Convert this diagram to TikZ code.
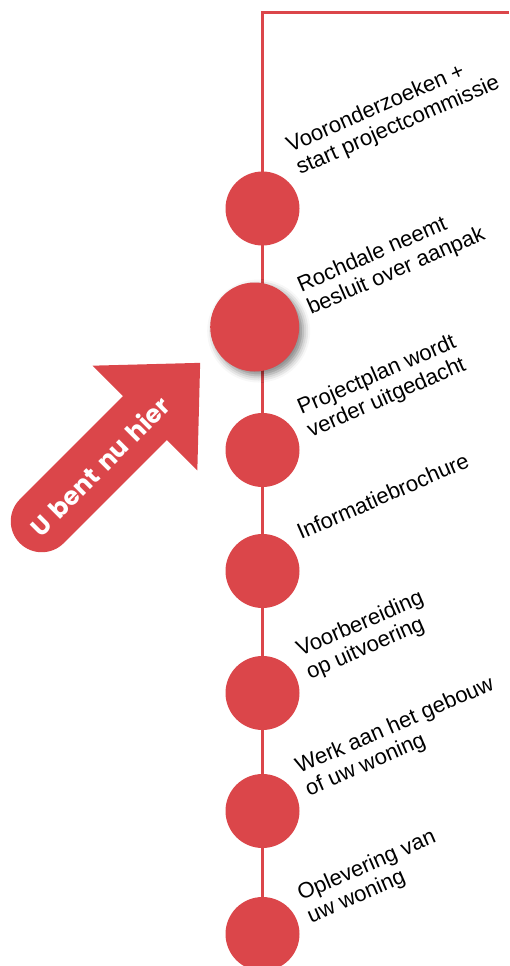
\documentclass[tikz,border=0pt]{standalone}
\usepackage{fontspec}
\setmainfont{Liberation Sans}
\newfontfamily\arrowfont{Poppins}[WordSpace=1.5]
\usetikzlibrary{shadows.blur}
\definecolor{rd}{RGB}{219,70,74}
\begin{document}
\begin{tikzpicture}[x=1pt,y=1pt,
  dot/.style={circle,fill=rd,inner sep=0pt,minimum size=74pt},
  bigdot/.style={dot,minimum size=89pt,blur shadow={shadow xshift=4pt,shadow yshift=-4pt,shadow blur radius=7pt,shadow opacity=50}},
  lbl/.style={anchor=base west,rotate=23.5,inner sep=0pt,align=left,font=\fontsize{22}{24.5}\selectfont},
  timeline/.style={draw=rd,line width=3pt}]
\useasboundingbox (0,0) rectangle (509,-966);
\coordinate (tr) at (509,-12.5);
\coordinate (corner) at (262.5,-12.5);
\coordinate (bot) at (262.5,-980);
\draw[timeline] (tr) -- (corner) -- (bot);

\node[dot] (c1) at (262.5,-208.5) {};
\node[bigdot] (c2) at (254.7,-327) {};
\node[dot] (c3) at (262.5,-450) {};
\node[dot] (c4) at (262.5,-571) {};
\node[dot] (c5) at (262.5,-693) {};
\node[dot] (c6) at (262.5,-811) {};
\node[dot] (c7) at (262.5,-934) {};

% anchor = baseline start of the last line
\node[lbl] (l1) at (300,-175) {Vooronderzoeken +\\start projectcommissie};
\node[lbl] (l2) at (311,-315) {Rochdale neemt\\besluit over aanpak};
\node[lbl] (l3) at (311,-437.5) {Projectplan wordt\\verder uitgedacht};
\node[lbl] (l4) at (301,-540) {Informatiebrochure};
\node[lbl] (l5) at (310,-679.5) {Voorbereiding\\op uitvoering};
\node[lbl] (l6) at (309,-796.5) {Werk aan het gebouw\\of uw woning};
\node[lbl] (l7) at (311,-923.5) {Oplevering van\\uw woning};

\begin{scope}[shift={(145,-418)},rotate=45]
\fill[rd] (78,0) -- (0,74) -- (0,31) -- (-146,31) arc[start angle=90,end angle=270,radius=31] -- (0,-31) -- (0,-74) -- cycle;
\node[text=white,font=\arrowfont\bfseries\fontsize{25}{25}\selectfont,rotate=45,inner sep=0pt] (here) at (-66,-2) {U bent nu hier};
\end{scope}
\end{tikzpicture}
\end{document}
